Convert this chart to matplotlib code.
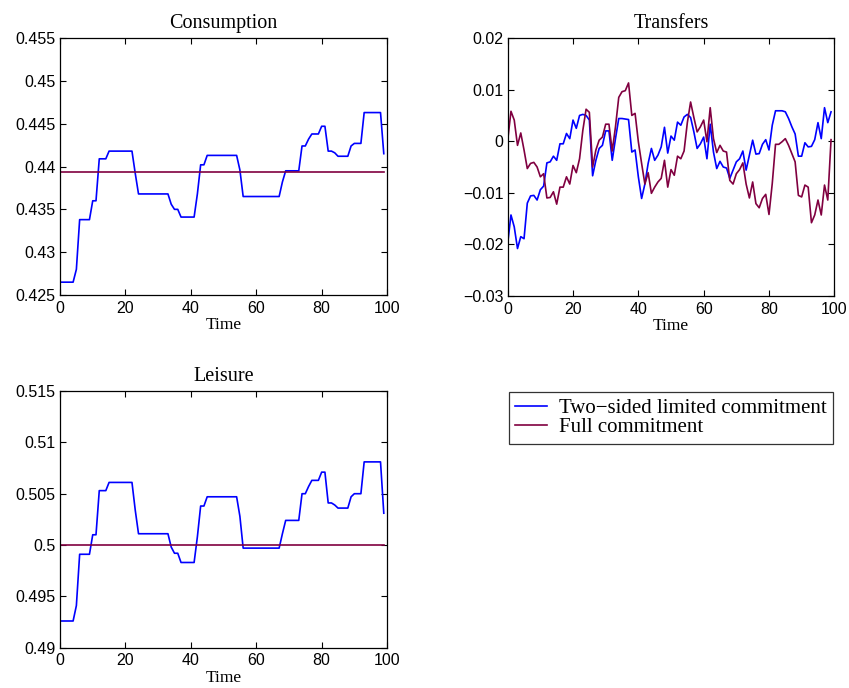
import matplotlib.pyplot as plt
from matplotlib.ticker import FuncFormatter

# time index
t = list(range(100))

# consumption, two-sided limited commitment
cons_lim = [0.4265, 0.4265, 0.4265, 0.4265, 0.4265, 0.4280, 0.4338, 0.4338, 0.4338, 0.4338,
            0.4360, 0.4360, 0.4409, 0.4409, 0.4409, 0.4418, 0.4418, 0.4418, 0.4418, 0.4418,
            0.4418, 0.4418, 0.4418, 0.4392, 0.4368, 0.4368, 0.4368, 0.4368, 0.4368, 0.4368,
            0.4368, 0.4368, 0.4368, 0.4368, 0.4356, 0.4350, 0.4350, 0.4341, 0.4341, 0.4341,
            0.4341, 0.4341, 0.4368, 0.4402, 0.4402, 0.4413, 0.4413, 0.4413, 0.4413, 0.4413,
            0.4413, 0.4413, 0.4413, 0.4413, 0.4413, 0.4396, 0.4365, 0.4365, 0.4365, 0.4365,
            0.4365, 0.4365, 0.4365, 0.4365, 0.4365, 0.4365, 0.4365, 0.4365, 0.4382, 0.4395,
            0.4395, 0.4395, 0.4395, 0.4395, 0.4424, 0.4424, 0.4432, 0.4438, 0.4438, 0.4438,
            0.4447, 0.4447, 0.4418, 0.4418, 0.4416, 0.4412, 0.4412, 0.4412, 0.4412, 0.4424,
            0.4427, 0.4427, 0.4427, 0.4463, 0.4463, 0.4463, 0.4463, 0.4463, 0.4463, 0.4415]
cons_full = 0.4394

# leisure, two-sided limited commitment
leis_lim = [0.4926, 0.4926, 0.4926, 0.4926, 0.4926, 0.4941, 0.4991, 0.4991, 0.4991, 0.4991,
            0.5010, 0.5010, 0.5053, 0.5053, 0.5053, 0.5061, 0.5061, 0.5061, 0.5061, 0.5061,
            0.5061, 0.5061, 0.5061, 0.5034, 0.5011, 0.5011, 0.5011, 0.5011, 0.5011, 0.5011,
            0.5011, 0.5011, 0.5011, 0.5011, 0.4998, 0.4992, 0.4992, 0.4983, 0.4983, 0.4983,
            0.4983, 0.4983, 0.5008, 0.5038, 0.5038, 0.5047, 0.5047, 0.5047, 0.5047, 0.5047,
            0.5047, 0.5047, 0.5047, 0.5047, 0.5047, 0.5028, 0.4997, 0.4997, 0.4997, 0.4997,
            0.4997, 0.4997, 0.4997, 0.4997, 0.4997, 0.4997, 0.4997, 0.4997, 0.5011, 0.5024,
            0.5024, 0.5024, 0.5024, 0.5024, 0.5050, 0.5050, 0.5057, 0.5063, 0.5063, 0.5063,
            0.5071, 0.5071, 0.5041, 0.5041, 0.5039, 0.5036, 0.5036, 0.5036, 0.5036, 0.5047,
            0.5050, 0.5050, 0.5050, 0.5081, 0.5081, 0.5081, 0.5081, 0.5081, 0.5081, 0.5031]
leis_full = 0.5

# transfers
trans_lim = [-0.0198, -0.0143, -0.0166, -0.0208, -0.0185, -0.0189, -0.0120, -0.0106, -0.0105, -0.0114,
             -0.0094, -0.0087, -0.0042, -0.0040, -0.0029, -0.0037, -0.0005, -0.0005, 0.0015, 0.0005,
             0.0041, 0.0025, 0.0050, 0.0052, 0.0050, 0.0041, -0.0067, -0.0037, -0.0014, -0.0008,
             0.0020, 0.0020, -0.0037, 0.0005, 0.0044, 0.0044, 0.0043, 0.0042, -0.0021, -0.0017,
             -0.0069, -0.0111, -0.0083, -0.0043, -0.0014, -0.0037, -0.0027, -0.0011, 0.0027, -0.0023,
             0.0010, 0.0002, 0.0037, 0.0031, 0.0047, 0.0052, 0.0046, 0.0018, -0.0014, -0.0005,
             0.0008, -0.0034, 0.0033, -0.0021, -0.0053, -0.0039, -0.0050, -0.0052, -0.0072, -0.0056,
             -0.0040, -0.0034, -0.0019, -0.0056, -0.0027, 0.0002, -0.0025, -0.0024, -0.0006, 0.0003,
             -0.0017, 0.0031, 0.0059, 0.0059, 0.0059, 0.0057, 0.0044, 0.0028, 0.0014, -0.0029,
             -0.0029, -0.0003, -0.0011, -0.0010, 0.0003, 0.0036, 0.0005, 0.0065, 0.0036, 0.0057]
trans_full = [0.0002, 0.0058, 0.0041, -0.0008, 0.0016, -0.0017, -0.0053, -0.0043, -0.0041, -0.0050,
              -0.0069, -0.0063, -0.0110, -0.0109, -0.0098, -0.0122, -0.0089, -0.0089, -0.0069, -0.0083,
              -0.0047, -0.0061, -0.0034, 0.0021, 0.0062, 0.0056, -0.0050, -0.0017, 0.0002, 0.0008,
              0.0033, 0.0033, -0.0019, 0.0028, 0.0085, 0.0096, 0.0098, 0.0113, 0.0050, 0.0054,
              -0.0001, -0.0043, -0.0083, -0.0061, -0.0101, -0.0089, -0.0079, -0.0072, -0.0037, -0.0089,
              -0.0055, -0.0066, -0.0029, -0.0034, -0.0019, 0.0036, 0.0076, 0.0046, 0.0018, 0.0028,
              0.0041, -0.0001, 0.0065, 0.0005, -0.0022, -0.0008, -0.0019, -0.0021, -0.0076, -0.0083,
              -0.0063, -0.0055, -0.0042, -0.0083, -0.0110, -0.0079, -0.0121, -0.0129, -0.0111, -0.0103,
              -0.0142, -0.0082, -0.0006, -0.0006, -0.0001, 0.0005, -0.0008, -0.0024, -0.0040, -0.0105,
              -0.0108, -0.0085, -0.0089, -0.0158, -0.0143, -0.0114, -0.0143, -0.0085, -0.0114, 0.0003]

labels = ['Two\u2212sided limited commitment', 'Full commitment']
blue = '#0000ff'
red = '#800040'

plt.rcParams['font.family'] = ['Liberation Sans', 'DejaVu Sans']
serif = ['Liberation Serif', 'DejaVu Serif']


def fmt(v, pos):
    return ('%g' % round(v, 6)).replace('-', '\u2212')


def style(ax, yticks, xlabel=True):
    ax.set_xlim(0, 100)
    ax.set_xticks([0, 20, 40, 60, 80, 100])
    ax.set_ylim(yticks[0], yticks[-1])
    ax.set_yticks(yticks)
    ax.yaxis.set_major_formatter(FuncFormatter(fmt))
    ax.tick_params(direction='in', top=True, right=True, length=4, width=0.8, labelsize=11.5)
    ax.tick_params(axis='x', pad=4)
    ax.tick_params(axis='y', pad=3)
    for s in ax.spines.values():
        s.set_linewidth(0.9)
    if xlabel:
        ax.set_xlabel('Time', family=serif, fontsize=12.5, labelpad=1)


fig = plt.figure(figsize=(8.49, 6.88), dpi=100)

ax1 = fig.add_axes([0.0707, 0.5712, 0.3852, 0.3735])
ax1.plot(t, cons_lim, color=blue, lw=1.2)
ax1.plot(t, [cons_full] * len(t), color=red, lw=1.2)
ax1.set_title('Consumption', family=serif, fontsize=14.5, pad=7)
style(ax1, [0.425, 0.43, 0.435, 0.44, 0.445, 0.45, 0.455])

ax2 = fig.add_axes([0.598, 0.5698, 0.3847, 0.3749])
ax2.plot(t, trans_lim, color=blue, lw=1.2)
ax2.plot(t, trans_full, color=red, lw=1.2)
ax2.set_title('Transfers', family=serif, fontsize=14.5, pad=7)
style(ax2, [-0.03, -0.02, -0.01, 0, 0.01, 0.02])

ax3 = fig.add_axes([0.0707, 0.0586, 0.3852, 0.373])
l1, = ax3.plot(t, leis_lim, color=blue, lw=1.2)
l2, = ax3.plot(t, [leis_full] * len(t), color=red, lw=1.2)
ax3.set_title('Leisure', family=serif, fontsize=14.5, pad=7)
style(ax3, [0.49, 0.495, 0.5, 0.505, 0.51, 0.515])

leg = fig.legend([l1, l2], labels, loc='upper right', bbox_to_anchor=(833 / 849, 1 - 392 / 688),
                 prop={'family': serif, 'size': 15}, frameon=True, fancybox=False,
                 edgecolor='black', handlelength=1.5, handletextpad=0.6, borderpad=0.3,
                 labelspacing=0.0, borderaxespad=0)
leg.get_frame().set_linewidth(0.9)

fig.savefig('out.png', dpi=100)
